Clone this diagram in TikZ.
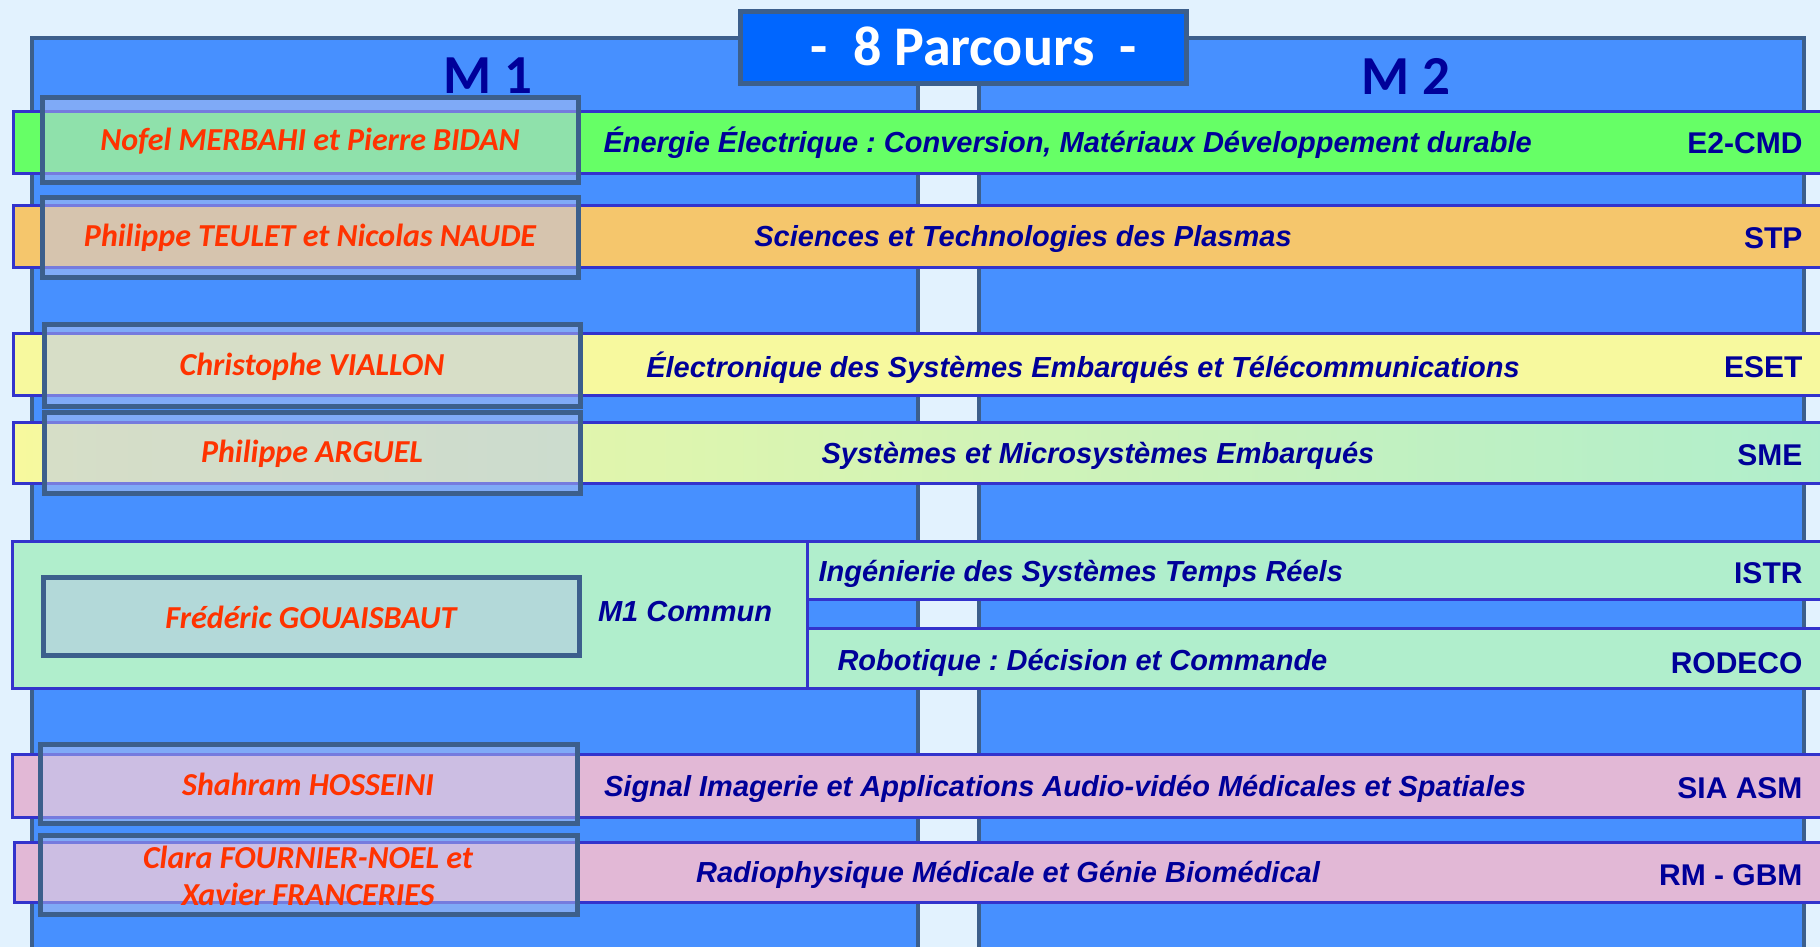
\documentclass[tikz,border=0pt]{standalone}
\usepackage{fontspec}
\setmainfont{Carlito}
\newfontfamily\arialfont{Liberation Sans}
\usetikzlibrary{positioning}
\frenchspacing

\definecolor{pagebg}{HTML}{E2F2FE}
\definecolor{colfill}{HTML}{4790FF}
\definecolor{colline}{HTML}{3C5F8C}
\definecolor{bandline}{HTML}{3333CC}
\definecolor{titlefill}{HTML}{0066FF}
\definecolor{namered}{HTML}{FF3300}
\definecolor{textblue}{HTML}{000099}
\definecolor{greenband}{HTML}{66FF66}
\definecolor{orangeband}{HTML}{F5C66C}
\definecolor{yellowband}{HTML}{F7F99E}
\definecolor{mintband}{HTML}{B0EECC}
\definecolor{pinkband}{HTML}{E2B8D6}
\definecolor{glass}{HTML}{B8C4F0}
\definecolor{tealbox}{HTML}{B3D9D9}

\tikzset{
  column/.style={draw=colline, line width=4pt, fill=colfill},
  band/.style={draw=bandline, line width=3pt, fill=#1},
  namebox/.style={draw=colline, line width=5pt, fill=glass, fill opacity=0.5},
  nametext/.style={text=namered, font=\fontsize{32}{37.5}\selectfont\bfseries\itshape, align=center},
  bandtext/.style={text=textblue, font=\arialfont\fontsize{29}{34}\selectfont\bfseries\itshape},
  codetext/.style={text=textblue, font=\arialfont\fontsize{30}{34}\selectfont\bfseries, anchor=east},
  headtext/.style={text=textblue, font=\fontsize{55}{60}\selectfont\bfseries},
}

\begin{document}
\begin{tikzpicture}[x=1pt, y=-1pt]
  \fill[pagebg] (0,0) rectangle (1820,947);
  \useasboundingbox (0,0) rectangle (1820,947);
  \clip (0,0) rectangle (1820,947);

  % the two year columns
  \draw[column] (32,38) rectangle (918,970);
  \draw[column] (979,38) rectangle (1804,970);
  \node[draw=colline, line width=5pt, fill=titlefill, minimum width=446pt, minimum height=72pt] (titlebox) at (963,48) {};
  \node[text=white, font=\fontsize{56}{60}\selectfont\bfseries] (title) at (974,46) {-\ \ 8 Parcours\ \ -};
  \node[headtext] (m1) at (488,76) {M 1};
  \node[headtext] (m2) at (1406,76) {M 2};

  % E2-CMD
  \draw[band=greenband] (13,112) rectangle (1830,173);
  \draw[namebox] (42,98) rectangle (578,182);
  \node[nametext] (n1) at (310,141) {Nofel MERBAHI et Pierre BIDAN};
  \node[bandtext, anchor=west] (p1) at (600,143) {Énergie Électrique : Conversion, Matériaux Développement durable};
  \node[codetext] (c1) at (1806,143) {E2-CMD};

  % STP
  \draw[band=orangeband] (13,205) rectangle (1830,267);
  \draw[namebox] (42,197) rectangle (578,277);
  \node[nametext] (n2) at (310,238) {Philippe TEULET et Nicolas NAUDE};
  \node[bandtext] (p2) at (1023,239) {Sciences et Technologies des Plasmas};
  \node[codetext] (c2) at (1806,238) {STP};

  % ESET
  \draw[band=yellowband] (13,333) rectangle (1830,395);
  \draw[namebox] (44,324) rectangle (580,406);
  \node[nametext] (n3) at (312,367) {Christophe VIALLON};
  \node[bandtext] (p3) at (1083,368) {Électronique des Systèmes Embarqués et Télécommunications};
  \node[codetext] (c3) at (1806,367) {ESET};

  % SME
  \draw[draw=bandline, line width=3pt, left color=yellowband, right color=mintband] (13,422) rectangle (1830,483);
  \draw[namebox] (44,412) rectangle (580,493);
  \node[nametext] (n4) at (312,454) {Philippe ARGUEL};
  \node[bandtext] (p4) at (1098,456) {Systèmes et Microsystèmes Embarqués};
  \node[codetext] (c4) at (1806,455) {SME};

  % M1 commun, ISTR and RODECO
  \draw[band=mintband] (12,541) rectangle (807,688);
  \draw[band=mintband] (807,541) rectangle (1830,599);
  \draw[band=mintband] (807,628) rectangle (1830,688);
  \draw[draw=colline, line width=5pt, fill=tealbox] (43,577) rectangle (579,655);
  \node[nametext] (n5) at (311,617) {Frédéric GOUAISBAUT};
  \node[bandtext] (com) at (685,612) {M1 Commun};
  \node[bandtext, anchor=west] (p5) at (815,574) {Ingénierie des Systèmes Temps Réels};
  \node[codetext] (c5) at (1806,573) {ISTR};
  \node[bandtext, anchor=west] (p6) at (834,663) {Robotique : Décision et Commande};
  \node[codetext] (c6) at (1806,663) {RODECO};

  % SIA ASM
  \draw[band=pinkband] (12,754) rectangle (1830,817);
  \draw[namebox] (40,744) rectangle (577,823);
  \node[nametext] (n7) at (308,784) {Shahram HOSSEINI};
  \node[bandtext] (p7) at (1065,789) {Signal Imagerie et Applications Audio-vidéo Médicales et Spatiales};
  \node[codetext] (c7) at (1806,788) {SIA ASM};

  % RM - GBM
  \draw[band=pinkband] (14,842) rectangle (1830,902);
  \draw[namebox] (40,835) rectangle (577,914);
  \node[nametext] (n8) at (308,876) {Clara FOURNIER-NOEL et\\Xavier FRANCERIES};
  \node[bandtext] (p8) at (1008,875) {Radiophysique Médicale et Génie Biomédical};
  \node[codetext] (c8) at (1806,875) {RM - GBM};
\end{tikzpicture}
\end{document}
